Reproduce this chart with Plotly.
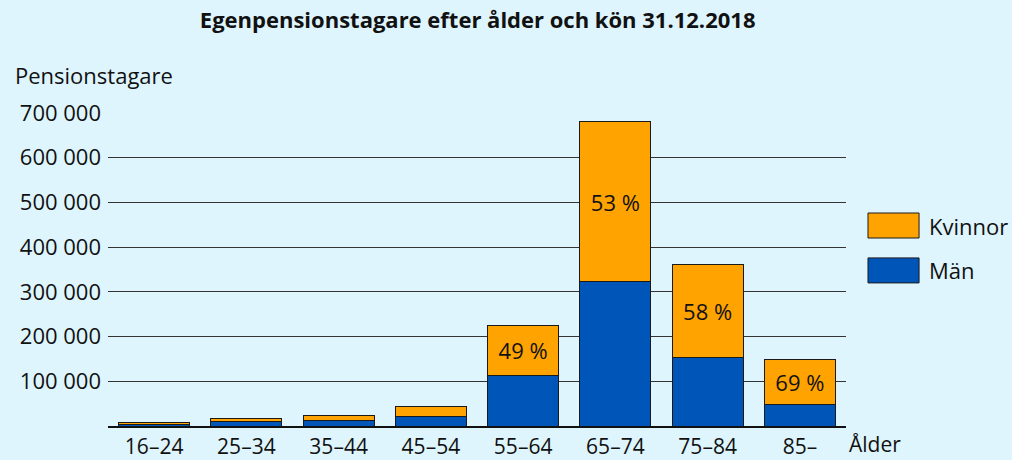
import plotly.graph_objects as go

categories = ["16–24", "25–34", "35–44", "45–54", "55–64", "65–74", "75–84", "85–"]
man = [4000, 9000, 13000, 21000, 114000, 323000, 154000, 47000]
kvinnor = [3000, 8000, 11000, 23000, 111000, 357000, 208000, 102000]
pct_labels = ["", "", "", "", "49 %", "53 %", "58 %", "69 %"]
y_ticks = [0, 100000, 200000, 300000, 400000, 500000, 600000, 700000]
y_ticktext = ["", "100 000", "200 000", "300 000", "400 000", "500 000", "600 000", "700 000"]

FONT = "'Open Sans', Lato, sans-serif"
BG = "#DEF5FD"
ORANGE = "#FFA300"
BLUE = "#0056B8"
FS = 22

fig = go.Figure()
fig.add_trace(go.Bar(x=categories, y=man, name="Män", marker=dict(color=BLUE, line=dict(color="#1a1a1a", width=1))))
fig.add_trace(go.Bar(x=categories, y=kvinnor, name="Kvinnor", text=pct_labels,
                     textposition="inside", insidetextanchor="middle",
                     textfont=dict(size=FS, color="#111111", family=FONT),
                     marker=dict(color=ORANGE, line=dict(color="#1a1a1a", width=1))))

fig.update_layout(
    barmode="stack", bargap=0.23,
    width=1012, height=460,
    paper_bgcolor=BG, plot_bgcolor=BG,
    margin=dict(l=108, r=166, t=112, b=34),
    showlegend=False,
    font=dict(family=FONT, size=FS, color="#111111"),
    title=dict(text="<b>Egenpensionstagare efter ålder och kön 31.12.2018</b>",
               x=0.472, xanchor="center", y=0.9565, yanchor="middle",
               font=dict(size=22, family=FONT, color="#111111")),
    uniformtext=dict(mode="show", minsize=10),
)
fig.update_xaxes(showgrid=False, showline=True, linecolor="#111111", linewidth=1.5,
                 ticks="", tickfont=dict(size=21), range=[-0.5, 7.5], ticklabelstandoff=1,
                 automargin=False)
fig.update_yaxes(range=[0, 702000], tickvals=y_ticks, ticktext=y_ticktext,
                 showgrid=True, gridcolor="#333333", gridwidth=1, zeroline=False,
                 ticks="", tickfont=dict(size=FS), ticklabelstandoff=6, automargin=False)

# Axis titles
fig.add_annotation(text="Pensionstagare", xref="paper", yref="paper", x=-0.1287, y=1.118,
                   xanchor="left", yanchor="middle", showarrow=False, font=dict(size=FS))
fig.add_annotation(text="Ålder", xref="paper", yref="paper", x=1.0027, y=-0.056,
                   xanchor="left", yanchor="middle", showarrow=False, font=dict(size=21),
                   borderpad=0)

# Custom legend
leg = [("Kvinnor", ORANGE, 0.6385), ("Män", BLUE, 0.4955)]
for name, col, yc in leg:
    fig.add_shape(type="rect", xref="paper", yref="paper",
                  x0=1.0298, x1=1.099, y0=yc - 0.0398, y1=yc + 0.0398,
                  fillcolor=col, line=dict(color="#1a1a1a", width=1))
    fig.add_annotation(text=name, xref="paper", yref="paper", x=1.1094, y=yc,
                       xanchor="left", yanchor="middle", showarrow=False, font=dict(size=FS))

fig.write_html("out.html", config={"displayModeBar": False},
               post_script="document.body.style.margin='0';")
